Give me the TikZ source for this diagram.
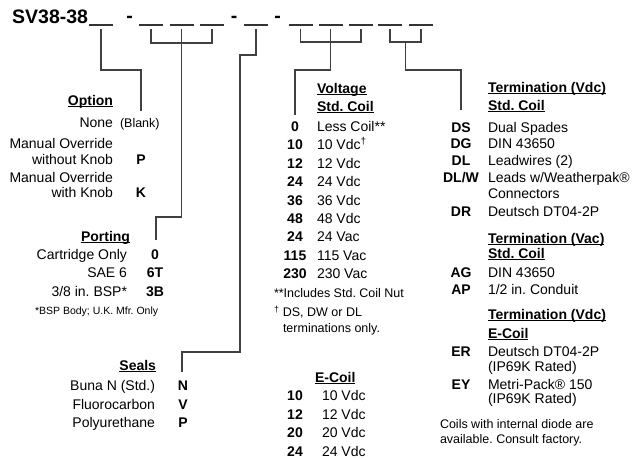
\documentclass[tikz,border=0pt]{standalone}
\usepackage{fontspec}
\setmainfont{Liberation Sans}
\usetikzlibrary{calc,positioning}
\frenchspacing
\newcommand\uhead[1]{\setbox0\hbox{#1}\rlap{\rule[-2.4pt]{\wd0}{1.2pt}}\box0}
\begin{document}
\begin{tikzpicture}[x=1pt,y=-1pt]
\tikzstyle{txt}=[inner sep=0pt,outer sep=0pt,font=\fontsize{14}{16}\selectfont]
\tikzstyle{lft}=[txt,anchor=base east]
\tikzstyle{rgt}=[txt,anchor=base west]
\tikzstyle{code}=[txt,anchor=base,font=\fontsize{14}{16}\selectfont\bfseries]
\tikzstyle{headl}=[lft,font=\fontsize{14}{16}\selectfont\bfseries]
\tikzstyle{headr}=[rgt,font=\fontsize{14}{16}\selectfont\bfseries]
\tikzstyle{note}=[rgt,font=\fontsize{12.5}{14}\selectfont]
\tikzstyle{title}=[inner sep=0pt,anchor=base west,font=\fontsize{19.5}{22}\selectfont\bfseries]
\tikzstyle{leader}=[draw=black!75,line width=1.2pt]
\tikzstyle{blank}=[draw=black!80,line width=1.2pt]
\useasboundingbox (0,0) rectangle (638,459);

\node[title] (sv) at (12,23.3) {SV38-38};
\node[title,anchor=base] (d1) at (129.5,22) {-};
\node[title,anchor=base] (d2) at (234,22) {-};
\node[title,anchor=base] (d3) at (277.5,22) {-};
\foreach \n/\x in {1/101,2/151,3/181.5,4/212,5/256,6/300.5,7/330.5,8/361,9/390,10/421}{
  \coordinate (b\n) at (\x,25);
  \draw[blank] ($(b\n)+(-12,0)$) -- ($(b\n)+(12,0)$);
}

\coordinate (k1) at (141,70);
\coordinate (e1) at (141,111);
\coordinate (k2) at (156,217);
\coordinate (e2) at (156,240);
\coordinate (k3) at (240,55);
\coordinate (k4) at (182,352);
\coordinate (e3) at (182,372);
\coordinate (k5) at (295,70);
\coordinate (e4) at (295,115);
\coordinate (k6) at (405.5,42);
\coordinate (k7) at (461,70);
\coordinate (e5) at (461,110);

\draw[leader] ($(b1)+(0,4)$) |- (k1) -- (e1);
\draw[leader] ($(b2)+(0,4)$) |- ($(b3)+(0,18)$) -| ($(b4)+(0,4)$);
\draw[leader] ($(b3)+(0,4)$) |- (k2) -- (e2);
\draw[leader] ($(b5)+(0,4)$) |- (k3) |- (k4) -- (e3);
\draw[leader] ($(b6)+(0,4)$) |- ($(b7)+(0,17)$) -| ($(b8)+(0,4)$);
\draw[leader] ($(b7)+(0,4)$) |- (k5) -- (e4);
\draw[leader] ($(b9)+(0,4)$) |- (k6) -| ($(b10)+(0,4)$);
\draw[leader] (k6) |- (k7) -- (e5);

\node[headl] (opt) at (113,105) {\uhead{Option}};
\node[lft] (opt1) at (113,127) {None};
\node[note] (opt1c) at (120,127) {(Blank)};
\node[lft] (opt2a) at (113,148) {Manual Override};
\node[lft] (opt2b) at (113,164) {without Knob};
\node[code] (opt2c) at (141,164) {P};
\node[lft] (opt3a) at (113,182) {Manual Override};
\node[lft] (opt3b) at (113,197) {with Knob};
\node[code] (opt3c) at (141,197) {K};

\node[headl] (port) at (130,241) {\uhead{Porting}};
\node[lft] (port1) at (127,259) {Cartridge Only};
\node[code] (port1c) at (155,259) {0};
\node[lft] (port2) at (127,277) {SAE 6};
\node[code] (port2c) at (155,277) {6T};
\node[lft] (port3) at (127,296) {3/8 in. BSP*};
\node[code] (port3c) at (155,296) {3B};
\node[rgt,font=\fontsize{10.5}{12}\selectfont] (portn) at (35,314) {*BSP Body; U.K. Mfr. Only};

\node[headl] (seal) at (156,370) {\uhead{Seals}};
\node[lft] (seal1) at (155,390) {Buna N (Std.)};
\node[code] (seal1c) at (183,390) {N};
\node[lft] (seal2) at (155,409) {Fluorocarbon};
\node[code] (seal2c) at (183,409) {V};
\node[lft] (seal3) at (155,427) {Polyurethane};
\node[code] (seal3c) at (183,427) {P};

\node[headr] (volt) at (317,93) {\uhead{Voltage}};
\node[headr] (volt0) at (317,111) {\uhead{Std. Coil}};
\foreach \c/\t [count=\i from 0] in {0/Less Coil**,10/10 Vdc\textsuperscript{†},12/12 Vdc,24/24 Vdc,36/36 Vdc,48/48 Vdc,24/24 Vac,115/115 Vac,230/230 Vac}{
  \node[code] (v\i) at (295,131.5+18.4*\i) {\c};
  \node[rgt] (vt\i) at (317,131.5+18.4*\i) {\t};
}
\node[note] (vn1) at (274,297.5) {**Includes Std. Coil Nut};
\node[note] (vn2) at (274,316.5) {\textsuperscript{†} DS, DW or DL};
\node[note] (vn3) at (283,332.5) {terminations only.};

\node[headr] (ecoil) at (315,382) {\uhead{E-Coil}};
\foreach \c [count=\i from 0] in {10,12,20,24}{
  \node[code] (ec\i) at (295,400.8+18.4*\i) {\c};
  \node[rgt] (ect\i) at (322,400.8+18.4*\i) {\c\ Vdc};
}

\node[headr] (term) at (488,92) {\uhead{Termination (Vdc)}};
\node[headr] (term0) at (488,110) {\uhead{Std. Coil}};
\node[code] (t1c) at (461,132) {DS};
\node[rgt] (t1) at (488,132) {Dual Spades};
\node[code] (t2c) at (461,148.5) {DG};
\node[rgt] (t2) at (488,148.5) {DIN 43650};
\node[code] (t3c) at (461,165) {DL};
\node[rgt] (t3) at (488,165) {Leadwires (2)};
\node[code] (t4c) at (461,182) {DL/W};
\node[rgt] (t4) at (488,182) {Leads w/Weatherpak®};
\node[rgt] (t4b) at (488,198.5) {Connectors};
\node[code] (t5c) at (461,216) {DR};
\node[rgt] (t5) at (488,216) {Deutsch DT04-2P};

\node[headr] (tvac) at (488,243) {\uhead{Termination (Vac)}};
\node[headr] (tvac0) at (488,258) {\uhead{Std. Coil}};
\node[code] (a1c) at (461,277) {AG};
\node[rgt] (a1) at (488,277) {DIN 43650};
\node[code] (a2c) at (461,294) {AP};
\node[rgt] (a2) at (488,294) {1/2 in. Conduit};

\node[headr] (tec) at (488,319) {\uhead{Termination (Vdc)}};
\node[headr] (tec0) at (488,338) {\uhead{E-Coil}};
\node[code] (r1c) at (461,356) {ER};
\node[rgt] (r1) at (488,356) {Deutsch DT04-2P};
\node[rgt] (r1b) at (488,371) {(IP69K Rated)};
\node[code] (r2c) at (461,389) {EY};
\node[rgt] (r2) at (488,389) {Metri-Pack® 150};
\node[rgt] (r2b) at (488,403) {(IP69K Rated)};

\node[note] (cn1) at (440,428.5) {Coils with internal diode are};
\node[note] (cn2) at (440,443.5) {available. Consult factory.};
\end{tikzpicture}
\end{document}
